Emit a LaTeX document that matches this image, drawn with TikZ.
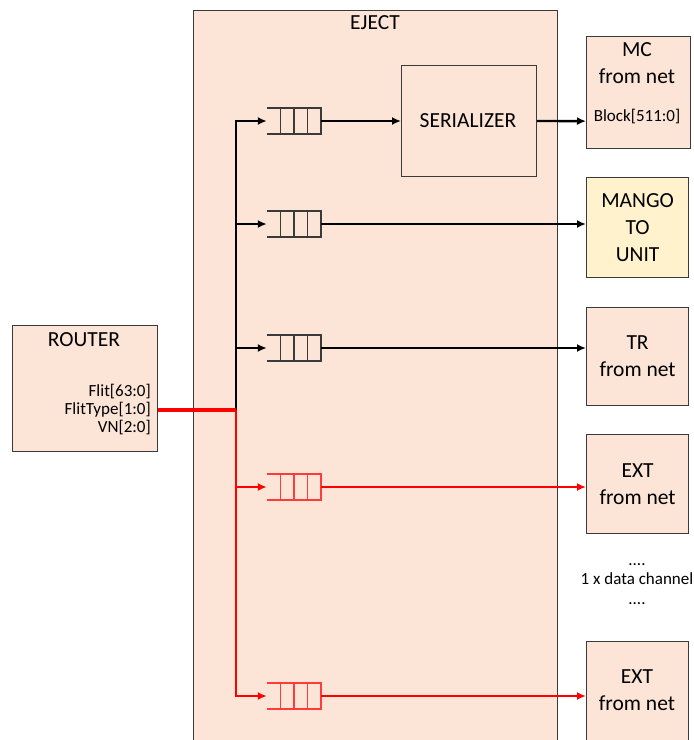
\documentclass[tikz,border=0pt]{standalone}
\usepackage{fontspec}
\setmainfont{Carlito}
\usetikzlibrary{arrows.meta,calc}
\definecolor{peach}{HTML}{FCE4D6}
\definecolor{lyellow}{HTML}{FFF2CC}
\definecolor{edge}{HTML}{3A3A3A}
\definecolor{qred}{HTML}{FF3B3B}
\tikzset{
  box/.style={draw=edge, line width=1.2pt, fill=peach, inner sep=0pt, anchor=north west},
  big/.style={font=\fontsize{21.5}{27}\selectfont, align=center, inner sep=0pt},
  small/.style={font=\fontsize{17}{18}\selectfont, inner sep=0pt},
  queue/.style={draw=none, minimum width=54pt, minimum height=26pt, inner sep=0pt},
  qblack/.style={draw=edge, line width=1.6pt},
  qredl/.style={draw=qred, line width=1.6pt},
  blk/.style={draw=black, line width=2.4pt, -{Latex[length=9pt,width=8pt]}},
  rd/.style={draw=red, line width=2.6pt, -{Latex[length=9pt,width=8pt]}},
}
\newcommand{\drawqueue}[2]{%
  \draw[#2] (#1.north west) -- (#1.north east) -- (#1.south east) -- (#1.south west);
  \draw[#2] ($(#1.north west)!0.25!(#1.north east)$) -- ($(#1.south west)!0.25!(#1.south east)$);
  \draw[#2] ($(#1.north west)!0.5!(#1.north east)$) -- ($(#1.south west)!0.5!(#1.south east)$);
  \draw[#2] ($(#1.north west)!0.75!(#1.north east)$) -- ($(#1.south west)!0.75!(#1.south east)$);
}
\begin{document}
\begin{tikzpicture}[x=1pt,y=-1pt]
\useasboundingbox (0,0) rectangle (694,740);
% EJECT block
\node[box, minimum width=364pt, minimum height=760pt] (eject) at (193,10) {};
\node[big] (ejectt) at (375,23) {EJECT};
% router
\node[box, minimum width=145pt, minimum height=126pt] (router) at (12,325) {};
\node[big] (routert) at (84,340) {ROUTER};
\node[small, anchor=east] (f1) at (151,392) {Flit[63:0]};
\node[small, anchor=east] (f2) at (151,410) {FlitType[1:0]};
\node[small, anchor=east] (f3) at (151,428) {VN[2:0]};
% serializer
\node[box, minimum width=135pt, minimum height=111pt] (ser) at (401,65) {};
\node[big] (sert) at (468,121) {SERIALIZER};
% right boxes
\node[box, minimum width=104pt, minimum height=112pt] (mc) at (586,36) {};
\node[big] (mct) at (637,63) {MC\\from net};
\node[small] (mcb) at (637,117) {Block[511:0]};
\node[box, fill=lyellow, minimum width=102pt, minimum height=100pt] (mango) at (586,177) {};
\node[big] at (mango.center) {MANGO\\TO\\UNIT};
\node[box, minimum width=102pt, minimum height=98pt] (tr) at (586,307) {};
\node[big] at (tr.center) {TR\\from net};
\node[box, minimum width=102pt, minimum height=99pt] (ext1) at (586,434) {};
\node[big] at (ext1.center) {EXT\\from net};
\node[box, minimum width=102pt, minimum height=120pt] (ext2) at (586,641) {};
\node[big] at (637,690) {EXT\\from net};
\node[small, align=center, font=\fontsize{17}{19.5}\selectfont] (dots) at (637,584) {....\\1 x data channel\\....};
% queues
\node[queue] (q1) at (294,121) {};
\node[queue] (q2) at (294,224) {};
\node[queue] (q3) at (294,348) {};
\node[queue] (q4) at (294,487) {};
\node[queue] (q5) at (294,696) {};
\drawqueue{q1}{qblack}
\drawqueue{q2}{qblack}
\drawqueue{q3}{qblack}
\drawqueue{q4}{qredl}
\drawqueue{q5}{qredl}
% bus
\coordinate (j) at (236,410);
\draw[blk] (j) |- (q1.west);
\draw[blk] (j) |- (q2.west);
\draw[blk] (j) |- (q3.west);
\draw[rd] (j) |- (q4.west);
\draw[rd] (j) |- (q5.west);
\draw[red, line width=3.2pt] (router.east |- j) -- (j);
% outputs
\draw[blk] (q1.east) -- (q1.east -| ser.west);
\draw[blk] (ser.east |- q1.east) -- (ser.east -| mc.west);
\draw[blk] (q2.east) -- (q2.east -| mango.west);
\draw[blk] (q3.east) -- (q3.east -| tr.west);
\draw[rd] (q4.east) -- (q4.east -| ext1.west);
\draw[rd] (q5.east) -- (q5.east -| ext2.west);
\end{tikzpicture}
\end{document}
